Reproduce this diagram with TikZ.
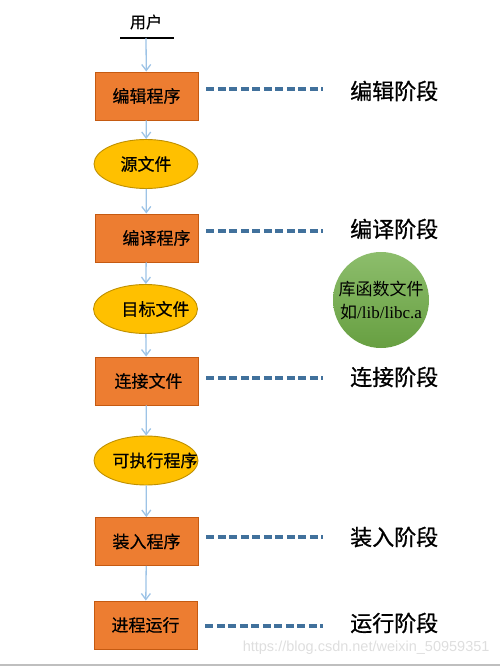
\documentclass[tikz,border=0pt]{standalone}
\usepackage{fontspec}
\setmainfont{Noto Sans CJK SC}
\newfontfamily\boxfont[FakeBold=0.4]{Noto Sans CJK SC}
\newfontfamily\stagefont[FakeBold=0.8]{Noto Sans CJK SC}
\newfontfamily\libfont{Liberation Serif}
\newfontfamily\markfont{Liberation Sans}
\usetikzlibrary{arrows.meta,shapes.geometric}
\definecolor{boxfill}{RGB}{237,125,49}
\definecolor{boxline}{RGB}{197,90,17}
\definecolor{ovalfill}{RGB}{255,192,0}
\definecolor{ovalline}{RGB}{191,144,0}
\definecolor{flowblue}{RGB}{157,195,230}
\definecolor{dashblue}{RGB}{65,113,156}
\definecolor{libgreen}{RGB}{112,173,71}
\begin{document}
\begin{tikzpicture}[x=1pt, y=-1pt,
    stagebox/.style = {draw=boxline, fill=boxfill, line width=0.9pt,
        minimum width=103pt, minimum height=48pt, inner sep=0pt,
        font=\boxfont\fontsize{17}{19}\selectfont},
    fileoval/.style = {ellipse, draw=ovalline, fill=ovalfill, line width=0.9pt,
        minimum width=104pt, minimum height=49pt, inner sep=0pt,
        font=\boxfont\fontsize{17}{19}\selectfont},
    stagename/.style = {anchor=west, inner sep=0pt,
        font=\stagefont\fontsize{22}{24}\selectfont},
    flow/.style = {draw=flowblue, line width=1.3pt,
        -{Straight Barb[length=6pt, width=9pt]}},
    stagedash/.style = {draw=dashblue, line width=3.2pt,
        dash pattern=on 8pt off 3.5pt, shorten <=8pt, shorten >=27pt}]
    \useasboundingbox (0, 0) rectangle (500, 666);
    % user on top
    \node [font=\boxfont\fontsize{16}{18}\selectfont] (user) at (146, 22) {用户};
    \draw [line width=1.6pt] (120, 38) -- (174, 38);
    \coordinate (userline) at (146, 38);
    % the chain on the left
    \node [stagebox] (edit) at (146.5, 96) {编辑程序};
    \node [fileoval] (src) at (146, 164) {\makebox[0pt]{源文件}};
    \node [stagebox] (compile) at (146.5, 238) {\hspace*{20pt}编译程序};
    \node [fileoval] (obj) at (145.5, 309) {\makebox[0pt]{\hspace*{20pt}目标文件}};
    \node [stagebox] (link) at (146.5, 381) {\hspace*{4pt}连接文件};
    \node [fileoval] (exe) at (146, 460.5) {\makebox[0pt]{\hspace*{18pt}可执行程序}};
    \node [stagebox] (load) at (146.5, 541.5) {装入程序};
    \node [stagebox] (run) at (145.5, 625) {进程运行};
    % library
    \node [circle, minimum size=96pt, inner sep=0pt, top color=libgreen!80!white,
        bottom color=libgreen!92!black, align=center,
        font=\fontsize{17}{23}\selectfont] (lib) at (381, 300)
        {\makebox[0pt]{库函数文件}\\\makebox[0pt]{如{\libfont /lib/libc.a}}};
    % stage names
    \node [stagename] (s1) at (350, 91) {编辑阶段};
    \node [stagename] (s2) at (350, 229) {编译阶段};
    \node [stagename] (s3) at (350, 377) {连接阶段};
    \node [stagename] (s4) at (350, 537) {装入阶段};
    \node [stagename] (s5) at (350, 623) {运行阶段};
    % arrows
    \draw [flow] (userline) -- (edit);
    \draw [flow] (edit) -- (src);
    \draw [flow] (src) -- (compile);
    \draw [flow] (compile) -- (obj);
    \draw [flow] (obj) -- (link);
    \draw [flow] (link) -- (exe);
    \draw [flow] (exe) -- (load);
    \draw [flow] (load) -- (run);
    % dashed lines to the stages
    \draw [stagedash] (edit.east |- 0, 89) -- (s1.west |- 0, 89);
    \draw [stagedash] (compile.east |- 0, 231) -- (s2.west |- 0, 231);
    \draw [stagedash] (link.east |- 0, 378) -- (s3.west |- 0, 378);
    \draw [stagedash] (load.east |- 0, 537) -- (s4.west |- 0, 537);
    \draw [stagedash] (run.east |- 0, 626) -- (s5.west |- 0, 626);
    % watermark and bottom rule
    \node [anchor=east, text=black!13, font=\markfont\fontsize{14.5}{16}\selectfont]
        (mark) at (493, 648) {https://blog.csdn.net/weixin\_50959351};
    \draw [black!25, line width=1.5pt] (0, 665) -- (500, 665);
\end{tikzpicture}
\end{document}
